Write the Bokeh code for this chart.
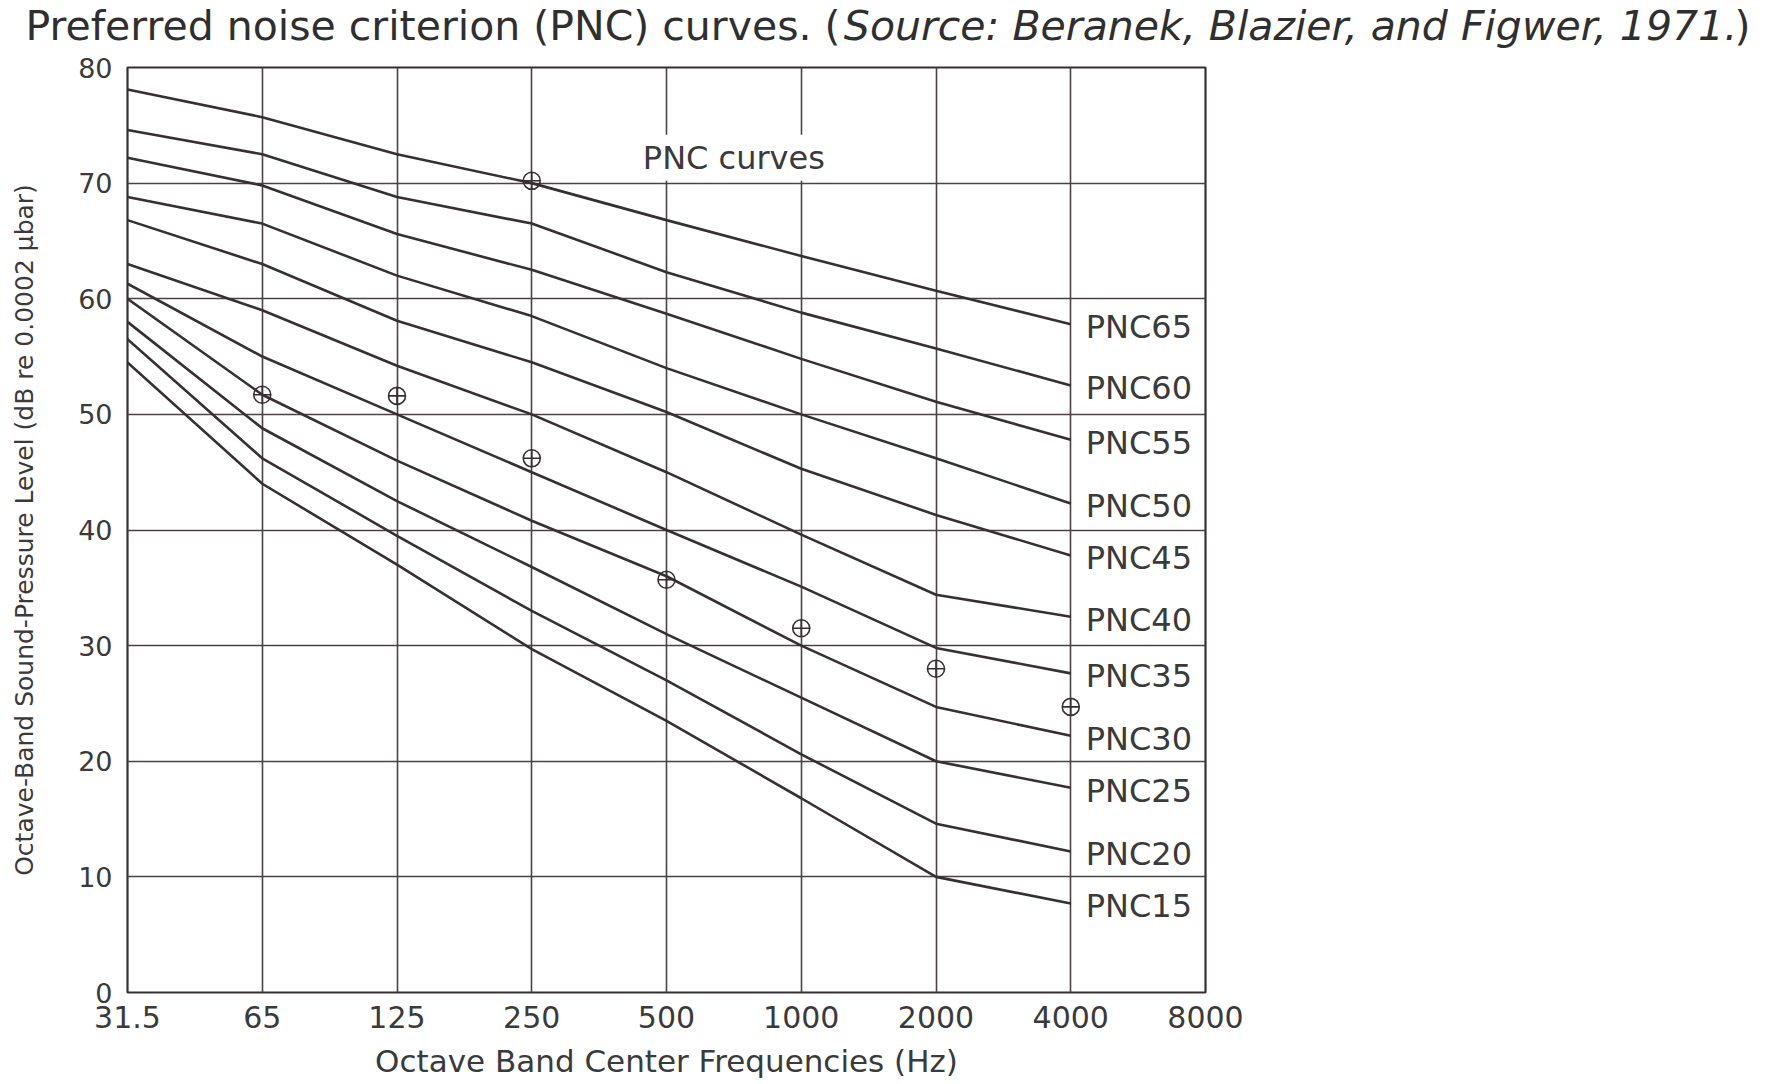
from bokeh.plotting import figure
from bokeh.models import Range1d, FixedTicker, Label, ColumnDataSource
from bokeh.embed import file_html
from bokeh.resources import INLINE
from bokeh.core.properties import value

# ---------------- data ----------------
freq_labels = ["31.5", "65", "125", "250", "500", "1000", "2000", "4000", "8000"]
curve_freqs = ["31.5", "65", "125", "250", "500", "1000", "2000", "4000"]
y_ticks = [0, 10, 20, 30, 40, 50, 60, 70, 80]

pnc_names = ["PNC15", "PNC20", "PNC25", "PNC30", "PNC35", "PNC40",
             "PNC45", "PNC50", "PNC55", "PNC60", "PNC65"]
pnc15 = [54.5, 44.0, 37.0, 29.7, 23.5, 16.8, 10.0, 7.7]
pnc20 = [56.5, 46.2, 39.5, 33.0, 27.0, 20.6, 14.6, 12.2]
pnc25 = [58.0, 48.8, 42.5, 36.8, 31.0, 25.5, 20.0, 17.7]
pnc30 = [60.0, 51.7, 46.0, 40.8, 36.0, 30.0, 24.7, 22.2]
pnc35 = [61.3, 55.0, 50.0, 45.0, 40.0, 35.1, 29.8, 27.6]
pnc40 = [63.0, 59.0, 54.2, 50.0, 45.0, 39.6, 34.4, 32.5]
pnc45 = [66.8, 63.0, 58.1, 54.5, 50.2, 45.3, 41.3, 37.8]
pnc50 = [68.8, 66.5, 62.0, 58.5, 54.0, 50.0, 46.2, 42.3]
pnc55 = [72.2, 69.8, 65.6, 62.5, 58.7, 54.8, 51.1, 47.8]
pnc60 = [74.6, 72.5, 68.8, 66.5, 62.3, 58.8, 55.7, 52.5]
pnc65 = [78.1, 75.7, 72.5, 70.0, 66.8, 63.7, 60.7, 57.8]
pnc_curves = [pnc15, pnc20, pnc25, pnc30, pnc35, pnc40,
              pnc45, pnc50, pnc55, pnc60, pnc65]

marker_freqs = ["65", "125", "250", "500", "1000", "2000", "4000", "250"]
marker_levels = [51.7, 51.6, 46.2, 35.7, 31.5, 28.0, 24.7, 70.2]

title_main = "Preferred noise criterion (PNC) curves. ("
title_source = "Source: Beranek, Blazier, and Figwer, 1971."
title_close = ")"
x_title = "Octave Band Center Frequencies (Hz)"
y_title = "Octave-Band Sound-Pressure Level (dB re 0.0002 \u03bcbar)"
curves_note = "PNC curves"

# ---------------- styling / layout ----------------
W, H = 1770, 1084
TITLE_H = 50
F_LEFT, F_RIGHT, F_TOP, F_BOTTOM = 127, 1205, 67, 992
FONT = "DejaVu Sans"
INK = "#372f33"
GRID = "#4a4246"
TEXT = "#3a3a3a"

# ---- title strip (own small figure, own root, so the source part can be italic)
t = figure(width=W, height=TITLE_H, x_range=Range1d(0, W), y_range=Range1d(0, TITLE_H),
           output_backend="svg", toolbar_location=None, tools="",
           x_axis_type=None, y_axis_type=None, min_border=0)
t.outline_line_color = None
t.grid.visible = False
t.background_fill_color = "white"
t.border_fill_color = "white"
fs = 41
tx = 25
ty = TITLE_H - 25
common = dict(text_baseline="middle", text_align="left", text_font=FONT,
              text_font_size=f"{fs}px", text_color="#2f2f2f")
t.add_layout(Label(x=tx, y=ty, text=title_main, **common))
t.add_layout(Label(x=tx + 19.96 * fs, y=ty, text=title_source,
                   text_font_style="italic", **common))
t.add_layout(Label(x=tx + (19.96 + 21.72) * fs, y=ty, text=title_close, **common))

# ---- main chart
x_index = {f: i for i, f in enumerate(freq_labels)}

p = figure(width=W, height=H - TITLE_H,
           x_range=Range1d(0, len(freq_labels) - 1), y_range=Range1d(0, 80),
           output_backend="svg", toolbar_location=None, tools="",
           min_border_left=F_LEFT, min_border_right=W - F_RIGHT,
           min_border_top=F_TOP - TITLE_H, min_border_bottom=H - F_BOTTOM)
p.background_fill_color = "white"
p.border_fill_color = "white"
p.outline_line_color = INK
p.outline_line_width = 2.2

xt = FixedTicker(ticks=list(range(len(freq_labels))))
yt = FixedTicker(ticks=y_ticks)
p.xaxis.ticker = xt
p.yaxis.ticker = yt
p.xgrid.ticker = xt
p.ygrid.ticker = yt
p.xaxis.major_label_overrides = {i: lab for i, lab in enumerate(freq_labels)}
for g in (p.xgrid, p.ygrid):
    g.grid_line_color = GRID
    g.grid_line_width = 1.6
    g.grid_line_alpha = 1.0

for ax in (p.xaxis, p.yaxis):
    ax.axis_line_color = None
    ax.major_tick_line_color = None
    ax.minor_tick_line_color = None
    ax.major_label_text_font = FONT
    ax.major_label_text_color = TEXT
    ax.axis_label_text_font = FONT
    ax.axis_label_text_color = TEXT
    ax.axis_label_text_font_style = "normal"

p.xaxis.major_label_text_font_size = "30px"
p.xaxis.major_label_standoff = 7
p.xaxis.axis_label = x_title
p.xaxis.axis_label_text_font_size = "31px"
p.xaxis.axis_label_standoff = 12

p.yaxis.major_label_text_font_size = "27px"
p.yaxis.major_label_standoff = 9
p.yaxis.axis_label = y_title
p.yaxis.axis_label_text_font_size = "25px"
p.yaxis.axis_label_standoff = 36

# curves
xs = [x_index[f] for f in curve_freqs]
for vals in pnc_curves:
    p.line(xs, vals, line_color=INK, line_width=2.6)

# curve labels
lab_src = ColumnDataSource(dict(
    x=[x_index[curve_freqs[-1]]] * len(pnc_names),
    y=[vals[-1] for vals in pnc_curves],
    text=pnc_names))
p.text(x="x", y="y", text="text", source=lab_src,
       x_offset=15, y_offset=3, text_align="left", text_baseline="middle",
       text_font=value(FONT), text_font_size="32px", text_color=TEXT)

# measured points (circled crosses)
m_src = ColumnDataSource(dict(x=[x_index[f] for f in marker_freqs], y=marker_levels))
p.scatter(x="x", y="y", source=m_src, marker="circle_cross", size=17,
          fill_color=None, line_color=INK, line_width=1.6)

# "PNC curves" note
p.add_layout(Label(x=4.5, y=72.2, text=curves_note, text_align="center",
                   text_baseline="middle", text_font=FONT, text_font_size="32px",
                   text_color=TEXT, background_fill_color="white", padding=4))

open("out.html", "w").write(file_html([t, p], INLINE))
